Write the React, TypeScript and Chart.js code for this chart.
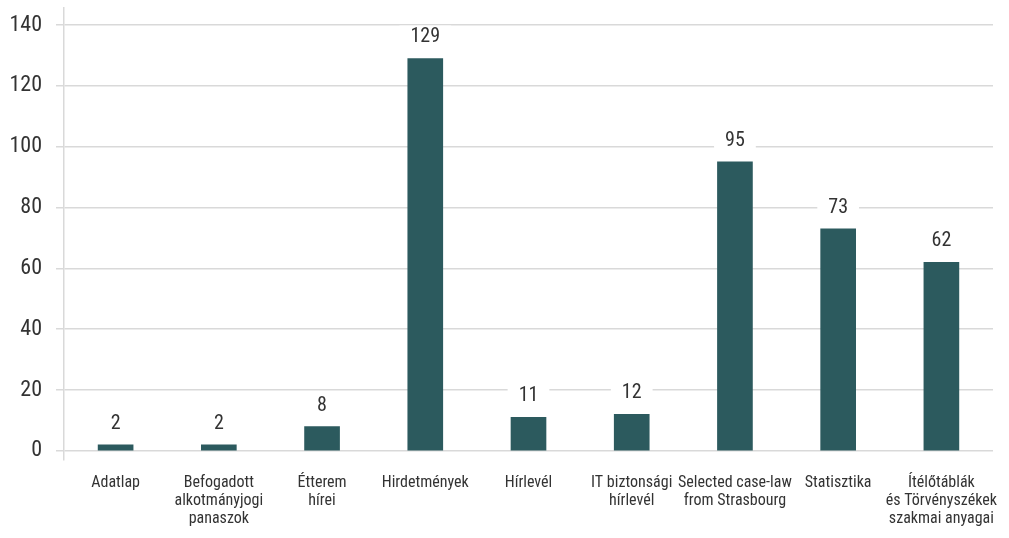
import React, { useEffect, useRef } from "react";
import { Chart, registerables } from "chart.js";

Chart.register(...registerables);

const categories: (string | string[])[] = [
  "Adatlap",
  ["Befogadott", "alkotmányjogi", "panaszok"],
  ["Étterem", "hírei"],
  "Hirdetmények",
  "Hírlevél",
  ["IT biztonsági", "hírlevél"],
  ["Selected case-law", "from Strasbourg"],
  "Statisztika",
  ["Ítélőtáblák", "és Törvényszékek", "szakmai anyagai"],
];
const values: number[] = [2, 2, 8, 129, 11, 12, 95, 73, 62];
const yTicks: number[] = [0, 20, 40, 60, 80, 100, 120, 140];

const FONT = "'Roboto Condensed', 'Liberation Sans Narrow', 'DejaVu Sans Condensed', sans-serif";
const BAR = "#2c5a5e";
const GRID = "#d9d9d9";
const TEXT = "#333333";

const valueLabels = {
  id: "valueLabels",
  afterDatasetsDraw(chart: any) {
    const ctx = chart.ctx;
    const meta = chart.getDatasetMeta(0);
    ctx.save();
    ctx.font = `20px ${FONT}`;
    ctx.textAlign = "center";
    ctx.textBaseline = "middle";
    meta.data.forEach((bar: any, i: number) => {
      const txt = String(values[i]);
      const w = ctx.measureText(txt).width + 22;
      const cy = bar.y - 21;
      ctx.fillStyle = "#ffffff";
      ctx.fillRect(bar.x - w / 2, cy - 12, w, 24);
      ctx.fillStyle = TEXT;
      ctx.fillText(txt, bar.x, cy);
    });
    ctx.restore();
  },
};

export default function App() {
  const ref = useRef<HTMLCanvasElement>(null);
  useEffect(() => {
    document.body.style.margin = "0";
    const chart = new Chart(ref.current!, {
      type: "bar",
      data: {
        labels: categories,
        datasets: [
          {
            data: values,
            backgroundColor: BAR,
            barThickness: 35,
          },
        ],
      },
      options: {
        animation: false,
        responsive: false,
        maintainAspectRatio: false,
        layout: { padding: { top: 8, right: 16, left: 0, bottom: 0 } },
        plugins: {
          legend: { display: false },
          tooltip: { enabled: false },
        },
        scales: {
          x: {
            grid: { display: false },
            border: { display: false },
            ticks: {
              color: TEXT,
              font: { family: FONT, size: 16, lineHeight: 1.13 },
              maxRotation: 0,
              minRotation: 0,
              autoSkip: false,
              padding: 6,
            },
            afterFit: (s: any) => {
              s.height = 78;
              s.paddingLeft = 0;
              s.paddingRight = 0;
            },
          },
          y: {
            min: -3,
            max: 145.6,
            afterBuildTicks: (s: any) => {
              s.ticks = yTicks.map((v) => ({ value: v }));
            },
            grid: { color: GRID, lineWidth: 1.5, tickLength: 8 },
            border: { color: GRID, width: 1.5 },
            ticks: {
              color: TEXT,
              font: { family: FONT, size: 22 },
              padding: 14,
            },
            afterFit: (s: any) => {
              s.width = 64;
              s.paddingTop = 0;
              s.paddingBottom = 0;
            },
          },
        },
      },
      plugins: [valueLabels],
    });
    return () => chart.destroy();
  }, []);
  return (
    <div style={{ width: 1009, height: 538 }}>
      <canvas ref={ref} width={1009} height={538} style={{ display: "block" }} />
    </div>
  );
}
